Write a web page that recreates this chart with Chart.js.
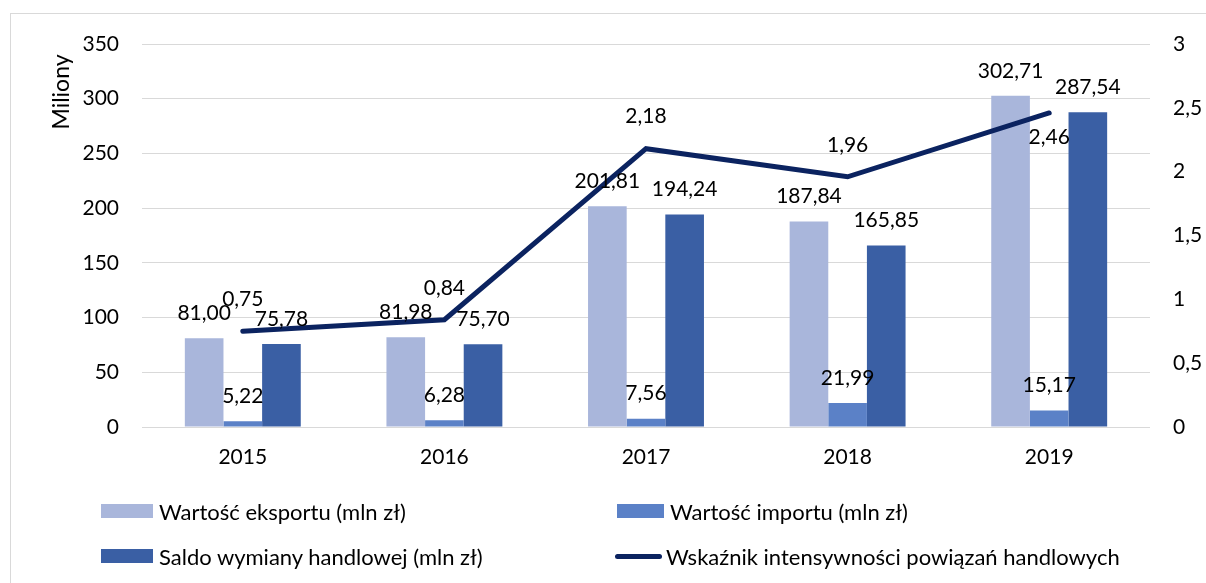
<!DOCTYPE html>
<html lang="pl">
<head>
<meta charset="utf-8">
<script src="https://cdn.jsdelivr.net/npm/chart.js@4.4.1/dist/chart.umd.min.js"></script>
<style>
  html, body { margin: 0; padding: 0; background: #fff; overflow: hidden; }
  body { width: 1206px; height: 583px; position: relative; font-family: Lato, sans-serif; }
  .frame { position: absolute; left: 10px; top: 13px; width: 1300px; height: 700px; border: 1px solid #d9d9d9; }
  .chart-box { position: absolute; left: 0; top: 0; width: 1206px; height: 480px; }
  .legend { position: absolute; left: 0; top: 0; width: 1206px; height: 583px; pointer-events: none; }
  .legend-item { position: absolute; display: flex; align-items: center; font-size: 22px; color: #000; white-space: nowrap; height: 26px; }
  .legend-item .swatch { width: 52px; height: 14px; margin-right: 6px; }
  .legend-item .swatch.line { height: 5px; border-radius: 3px; margin-right: 4px; }
</style>
</head>
<body>
<div class="frame"></div>
<div class="chart-box"><canvas id="tradeChart"></canvas></div>
<div class="legend" id="tradeLegend"></div>
<script>
  const years = ["2015", "2016", "2017", "2018", "2019"];
  const exportValues = [81.0, 81.98, 201.81, 187.84, 302.71];
  const importValues = [5.22, 6.28, 7.56, 21.99, 15.17];
  const balanceValues = [75.78, 75.7, 194.24, 165.85, 287.54];
  const intensityValues = [0.75, 0.84, 2.18, 1.96, 2.46];

  const leftTicks = { min: 0, max: 350, step: 50 };
  const rightTicks = { min: 0, max: 3, step: 0.5 };
  const leftTitle = "Miliony";

  const plNumber = (v) => String(v).replace(".", ",");
  const plFixed = (v) => v.toFixed(2).replace(".", ",");

  Chart.defaults.font.family = "Lato, sans-serif";
  Chart.defaults.font.size = 21;
  Chart.defaults.color = "#000";

  // value labels over bars and line points
  const valueLabels = {
    id: "valueLabels",
    afterDatasetsDraw(chart) {
      const ctx = chart.ctx;
      ctx.save();
      ctx.font = "21px Lato, sans-serif";
      ctx.fillStyle = "#000";
      ctx.textAlign = "center";
      ctx.textBaseline = "middle";
      chart.data.datasets.forEach((ds, i) => {
        const meta = chart.getDatasetMeta(i);
        meta.data.forEach((el, j) => {
          const value = ds.data[j];
          let y = el.y - 25;
          if (ds.type === "line") {
            y = ds.labelSide[j] === "below" ? el.y + 24 : el.y - 32;
          }
          ctx.fillText(plFixed(value), el.x, y);
        });
      });
      ctx.restore();
    },
  };

  // rotated unit caption, sitting near the top of the left axis
  const axisCaption = {
    id: "axisCaption",
    afterDraw(chart) {
      const ctx = chart.ctx;
      const area = chart.chartArea;
      ctx.save();
      ctx.translate(62, area.top + 48);
      ctx.rotate(-Math.PI / 2);
      ctx.font = "23px Lato, sans-serif";
      ctx.fillStyle = "#000";
      ctx.textAlign = "center";
      ctx.textBaseline = "middle";
      ctx.fillText(leftTitle, 0, 0);
      ctx.restore();
    },
  };

  const dataTradeChart = {
    labels: years,
    datasets: [
      {
        type: "line",
        label: "Wskaźnik intensywności powiązań handlowych",
        data: intensityValues,
        yAxisID: "y1",
        borderColor: "#0b2360",
        backgroundColor: "#0b2360",
        borderWidth: 5,
        borderCapStyle: "round",
        borderJoinStyle: "miter",
        pointRadius: 0,
        tension: 0,
        order: 0,
        labelSide: ["above", "above", "above", "above", "below"],
      },
      {
        label: "Wartość eksportu (mln zł)",
        data: exportValues,
        backgroundColor: "#a9b6db",
        yAxisID: "y",
        order: 1,
      },
      {
        label: "Wartość importu (mln zł)",
        data: importValues,
        backgroundColor: "#5b81c7",
        yAxisID: "y",
        order: 1,
      },
      {
        label: "Saldo wymiany handlowej (mln zł)",
        data: balanceValues,
        backgroundColor: "#3a5fa4",
        yAxisID: "y",
        order: 1,
      },
    ],
  };

  const tradeChart = new Chart(document.getElementById("tradeChart"), {
    type: "bar",
    data: dataTradeChart,
    plugins: [valueLabels, axisCaption],
    options: {
      responsive: true,
      maintainAspectRatio: false,
      animation: false,
      layout: { padding: { top: 44, left: 0, right: 0, bottom: 0 } },
      datasets: {
        bar: { categoryPercentage: 0.575, barPercentage: 1 },
      },
      scales: {
        x: {
          grid: { display: false, drawTicks: false },
          border: { display: false },
          ticks: { padding: 18, color: "#000" },
          afterFit(scale) {
            scale.height = 53;
          },
        },
        y: {
          position: "left",
          min: leftTicks.min,
          max: leftTicks.max,
          ticks: { stepSize: leftTicks.step, padding: 23, color: "#000" },
          grid: { color: "#d9d9d9", lineWidth: 1, drawTicks: false },
          border: { display: false },
          afterFit(scale) {
            scale.width = 142;
          },
        },
        y1: {
          position: "right",
          min: rightTicks.min,
          max: rightTicks.max,
          ticks: {
            stepSize: rightTicks.step,
            padding: 23,
            color: "#000",
            callback: (v) => plNumber(v),
          },
          grid: { display: false, drawTicks: false },
          border: { display: false },
          afterFit(scale) {
            scale.width = 56;
          },
        },
      },
      plugins: {
        legend: { display: false },
        tooltip: { enabled: false },
      },
    },
  });

  // two-column legend under the chart
  const legendSlots = [
    { ds: 1, left: 101, top: 498 },
    { ds: 2, left: 617, top: 498 },
    { ds: 3, left: 101, top: 543 },
    { ds: 0, left: 615, top: 543 },
  ];
  const legendBox = document.getElementById("tradeLegend");
  legendSlots.forEach((slot) => {
    const ds = tradeChart.data.datasets[slot.ds];
    const item = document.createElement("div");
    item.className = "legend-item";
    item.style.left = slot.left + "px";
    item.style.top = slot.top + "px";
    const swatch = document.createElement("span");
    swatch.className = ds.type === "line" ? "swatch line" : "swatch";
    swatch.style.background = ds.backgroundColor;
    if (slot.ds !== 1 && slot.ds !== 3) swatch.style.width = "47px";
    const text = document.createElement("span");
    text.textContent = ds.label;
    item.appendChild(swatch);
    item.appendChild(text);
    legendBox.appendChild(item);
  });
</script>
</body>
</html>
